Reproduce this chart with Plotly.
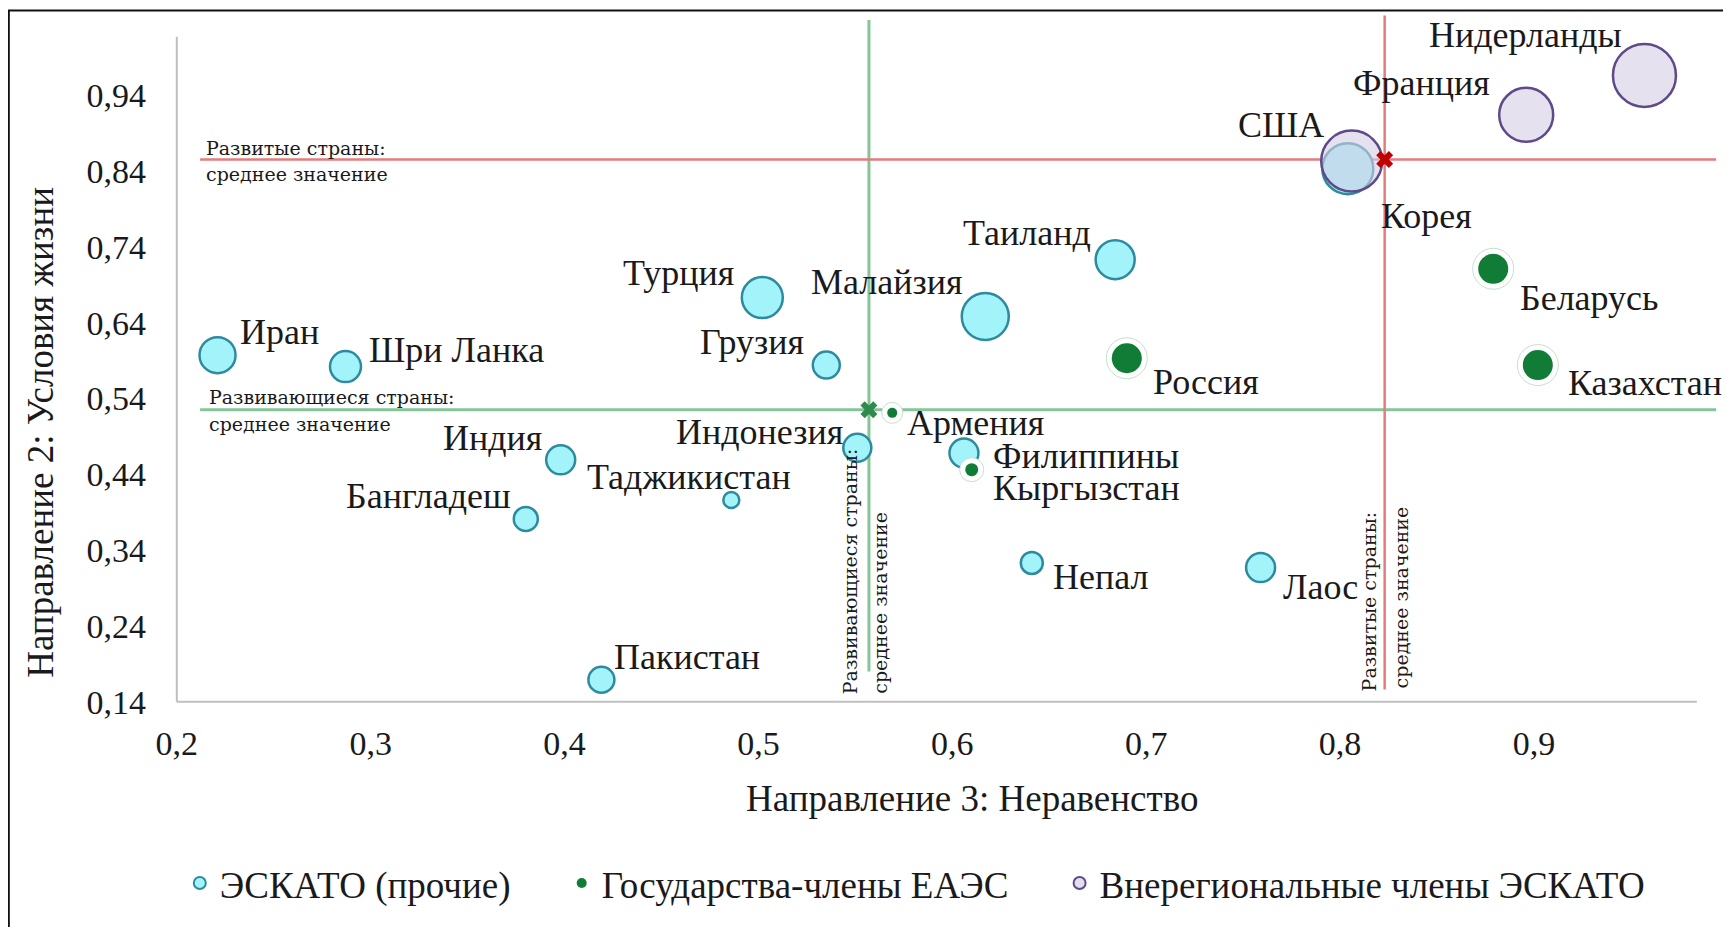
import plotly.graph_objects as go

# ---------------- data ----------------
countries = ["Иран", "Шри Ланка", "Индия", "Бангладеш", "Таджикистан", "Пакистан",
             "Турция", "Грузия", "Индонезия", "Малайзия", "Филиппины", "Таиланд",
             "Непал", "Лаос", "Корея",
             "Армения", "Кыргызстан", "Россия", "Беларусь", "Казахстан",
             "США", "Франция", "Нидерланды"]
inequality = [0.221, 0.287, 0.398, 0.380, 0.486, 0.419,
              0.502, 0.535, 0.551, 0.617, 0.606, 0.684,
              0.641, 0.759, 0.804,
              0.569, 0.610, 0.690, 0.879, 0.902,
              0.806, 0.896, 0.957]
living = [0.597, 0.582, 0.459, 0.381, 0.406, 0.169,
          0.673, 0.584, 0.475, 0.648, 0.468, 0.723,
          0.323, 0.317, 0.843,
          0.521, 0.446, 0.593, 0.711, 0.584,
          0.853, 0.914, 0.966]
group = ["other"] * 15 + ["eaeu"] * 5 + ["extra"] * 3
bubble = [36, 31, 29, 24, 16, 26,
          41, 27, 28, 47, 29, 39,
          22, 29, 51,
          10, 13, 30, 30, 30,
          61, 54, 63]

group_names = {"other": "ЭСКАТО (прочие)",
               "eaeu": "Государства-члены ЕАЭС",
               "extra": "Внерегиональные члены ЭСКАТО"}

developing_mean = (0.557, 0.525)
developed_mean = (0.823, 0.855)

x_title = "Направление 3: Неравенство"
y_title = "Направление 2: Условия жизни"
x_ticks = [0.2, 0.3, 0.4, 0.5, 0.6, 0.7, 0.8, 0.9]
y_ticks = [0.14, 0.24, 0.34, 0.44, 0.54, 0.64, 0.74, 0.84, 0.94]

# ---------------- style / placement ----------------
label_pos = {  # anchor, xshift, yshift (px)
    "Иран": ("left", 20, 23), "Шри Ланка": ("left", 22, 17),
    "Индия": ("right", -17, 22), "Бангладеш": ("right", -13, 23),
    "Таджикистан": ("right", 62, 23), "Пакистан": ("left", 11, 23),
    "Турция": ("right", -26, 25), "Грузия": ("right", -20, 23),
    "Индонезия": ("right", -12, 16), "Армения": ("left", 13, -10),
    "Малайзия": ("right", -20, 35), "Филиппины": ("left", 27, -3),
    "Кыргызстан": ("left", 19, -18), "Таиланд": ("right", -22, 27),
    "Россия": ("left", 24, -24), "Непал": ("left", 19, -14),
    "Лаос": ("left", 20, -19), "Корея": ("left", 31, -47),
    "США": ("right", -26, 36), "Франция": ("right", -34, 32),
    "Нидерланды": ("right", -20, 40), "Беларусь": ("left", 25, -29),
    "Казахстан": ("left", 28, -18),
}

W, H = 1731, 927
OFF = 8  # page body margin
L, R, T, B = 171.2 - OFF, 8.6 + OFF, 13.6 - OFF, 222.7 + OFF
X_RANGE = [0.197, 0.997]
Y_RANGE = [0.137, 1.047]
PW, PH = W - L - R, H - T - B


def px_x(p):
    return (p - OFF - L) / PW


def px_y(p):
    return ((H - B) - (p - OFF)) / PH


SERIF = "Liberation Serif, Times New Roman, serif"
SMALL = "DejaVu Serif, serif"
TXT = "#1a1a1a"
CYAN_FILL, CYAN_LINE = "#A2F4FA", "#2E8B9E"
PURPLE_FILL, PURPLE_LINE = "rgba(214,205,228,0.6)", "#5E4A88"
GREEN = "#107C36"
RED_LINE, GREEN_LINE = "#E47C7C", "#86C49A"

fig = go.Figure()


def idx(g):
    return [i for i, gg in enumerate(group) if gg == g]


# other ESCAP
ii = idx("other")
fig.add_trace(go.Scatter(
    x=[inequality[i] for i in ii], y=[living[i] for i in ii], mode="markers",
    marker=dict(size=[bubble[i] for i in ii], color=CYAN_FILL, opacity=1,
                line=dict(color=CYAN_LINE, width=2.5)),
    showlegend=False, hoverinfo="skip"))

# EAEU: halo + dot
ii = idx("eaeu")
fig.add_trace(go.Scatter(
    x=[inequality[i] for i in ii], y=[living[i] for i in ii], mode="markers",
    marker=dict(size=[bubble[i] + 11 for i in ii], color="white", opacity=1,
                line=dict(color="#C4E2CC", width=1)),
    showlegend=False, hoverinfo="skip"))
fig.add_trace(go.Scatter(
    x=[inequality[i] for i in ii], y=[living[i] for i in ii], mode="markers",
    marker=dict(size=[bubble[i] for i in ii], color=GREEN, opacity=1, line=dict(width=0)),
    showlegend=False, hoverinfo="skip"))

# extra-regional
ii = idx("extra")
fig.add_trace(go.Scatter(
    x=[inequality[i] for i in ii], y=[living[i] for i in ii], mode="markers",
    marker=dict(size=[bubble[i] for i in ii], color=PURPLE_FILL, opacity=1,
                line=dict(color=PURPLE_LINE, width=2.5)),
    showlegend=False, hoverinfo="skip"))

# mean crosses
fig.add_trace(go.Scatter(x=[developing_mean[0]], y=[developing_mean[1]], mode="markers",
                         marker=dict(symbol="x", size=15, color="#2E8B4B", line=dict(width=0)),
                         showlegend=False, hoverinfo="skip"))
fig.add_trace(go.Scatter(x=[developed_mean[0]], y=[developed_mean[1]], mode="markers",
                         marker=dict(symbol="x", size=15, color="#C00000", line=dict(width=0)),
                         showlegend=False, hoverinfo="skip"))

# legend-only entries
NB = "\u00a0" * 5
fig.add_trace(go.Scatter(x=[None], y=[None], mode="markers", name=group_names["other"] + NB,
                         marker=dict(size=12, color=CYAN_FILL, line=dict(color=CYAN_LINE, width=2))))
fig.add_trace(go.Scatter(x=[None], y=[None], mode="markers", name=group_names["eaeu"] + NB,
                         marker=dict(size=10, color=GREEN, line=dict(width=0))))
fig.add_trace(go.Scatter(x=[None], y=[None], mode="markers", name=group_names["extra"],
                         marker=dict(size=12, color="#E4DFEC", line=dict(color=PURPLE_LINE, width=2))))

shapes = []
# mean lines
shapes.append(dict(type="line", xref="x", yref="y", x0=0.212, x1=0.994,
                   y0=developing_mean[1], y1=developing_mean[1],
                   line=dict(color=GREEN_LINE, width=3), layer="below"))
shapes.append(dict(type="line", xref="x", yref="y", x0=developing_mean[0], x1=developing_mean[0],
                   y0=0.180, y1=1.039, line=dict(color=GREEN_LINE, width=3), layer="below"))
shapes.append(dict(type="line", xref="x", yref="y", x0=0.212, x1=0.994,
                   y0=developed_mean[1], y1=developed_mean[1],
                   line=dict(color=RED_LINE, width=2.5), layer="below"))
shapes.append(dict(type="line", xref="x", yref="y", x0=developed_mean[0], x1=developed_mean[0],
                   y0=0.156, y1=1.045, line=dict(color=RED_LINE, width=2.5), layer="below"))
# axis lines (Excel-style)
shapes.append(dict(type="line", xref="x", yref="y", x0=0.2, x1=0.984, y0=0.14, y1=0.14,
                   line=dict(color="#BFBFBF", width=2), layer="below"))
shapes.append(dict(type="line", xref="x", yref="y", x0=0.2, x1=0.2, y0=0.14, y1=1.017,
                   line=dict(color="#BFBFBF", width=2), layer="below"))
# outer frame
shapes.append(dict(type="rect", xref="paper", yref="paper",
                   x0=px_x(9), x1=px_x(1728), y0=px_y(945), y1=px_y(10),
                   line=dict(color="#111111", width=2), fillcolor="rgba(0,0,0,0)", layer="below"))

ann = []
for i, name in enumerate(countries):
    anc, xs, ys = label_pos[name]
    ann.append(dict(x=inequality[i], y=living[i], xref="x", yref="y", text=name,
                    showarrow=False, xanchor=anc, yanchor="middle", xshift=xs, yshift=ys,
                    font=dict(family=SERIF, size=36, color=TXT)))

# mean-line captions
small = dict(family=SMALL, size=19, color=TXT)
ann += [
    dict(x=0.2, y=developed_mean[1], xref="x", yref="y", text="Развитые страны:",
         showarrow=False, xanchor="left", yanchor="bottom", xshift=27, yshift=-1, font=small),
    dict(x=0.2, y=developed_mean[1], xref="x", yref="y", text="среднее значение",
         showarrow=False, xanchor="left", yanchor="top", xshift=27, yshift=-1, font=small),
    dict(x=0.2, y=developing_mean[1], xref="x", yref="y", text="Развивающиеся страны:",
         showarrow=False, xanchor="left", yanchor="bottom", xshift=30, yshift=0, font=small),
    dict(x=0.2, y=developing_mean[1], xref="x", yref="y", text="среднее значение",
         showarrow=False, xanchor="left", yanchor="top", xshift=30, yshift=-1, font=small),
    dict(x=developing_mean[0], y=0.14, xref="x", yref="y", text="Развивающиеся страны:",
         showarrow=False, textangle=-90, xanchor="center", yanchor="bottom",
         xshift=-19, yshift=6, font=small),
    dict(x=developing_mean[0], y=0.14, xref="x", yref="y", text="среднее значение",
         showarrow=False, textangle=-90, xanchor="center", yanchor="bottom",
         xshift=11, yshift=6, font=small),
    dict(x=developed_mean[0], y=0.14, xref="x", yref="y", text="Развитые страны:",
         showarrow=False, textangle=-90, xanchor="center", yanchor="bottom",
         xshift=-16, yshift=8, font=small),
    dict(x=developed_mean[0], y=0.14, xref="x", yref="y", text="среднее значение",
         showarrow=False, textangle=-90, xanchor="center", yanchor="bottom",
         xshift=16, yshift=11, font=small),
]
# axis titles
ann.append(dict(x=px_x(972), y=px_y(799), xref="paper", yref="paper", text=x_title,
                showarrow=False, xanchor="center", yanchor="middle",
                font=dict(family=SERIF, size=37, color=TXT)))
ann.append(dict(x=px_x(41), y=px_y(432), xref="paper", yref="paper", text=y_title,
                showarrow=False, textangle=-90, xanchor="center", yanchor="middle",
                font=dict(family=SERIF, size=37, color=TXT)))

fig.update_layout(
    width=W, height=H,
    margin=dict(l=L, r=R, t=T, b=B),
    paper_bgcolor="white", plot_bgcolor="white",
    separators=", ",
    shapes=shapes, annotations=ann,
    showlegend=True,
    legend=dict(orientation="h", x=px_x(180), y=px_y(884), xanchor="left", yanchor="middle",
                font=dict(family=SERIF, size=37, color=TXT), bgcolor="rgba(0,0,0,0)",
                itemclick=False, itemdoubleclick=False),
    xaxis=dict(range=X_RANGE, tickvals=x_ticks, tickformat=".1f", showgrid=False,
               zeroline=False, showline=False, ticks="", ticklabelstandoff=16,
               tickfont=dict(family=SERIF, size=34, color=TXT)),
    yaxis=dict(range=Y_RANGE, tickvals=y_ticks, tickformat=".2f", showgrid=False,
               zeroline=False, showline=False, ticks="", ticklabelstandoff=24,
               tickfont=dict(family=SERIF, size=34, color=TXT)),
)

fig.write_html("out.html")
